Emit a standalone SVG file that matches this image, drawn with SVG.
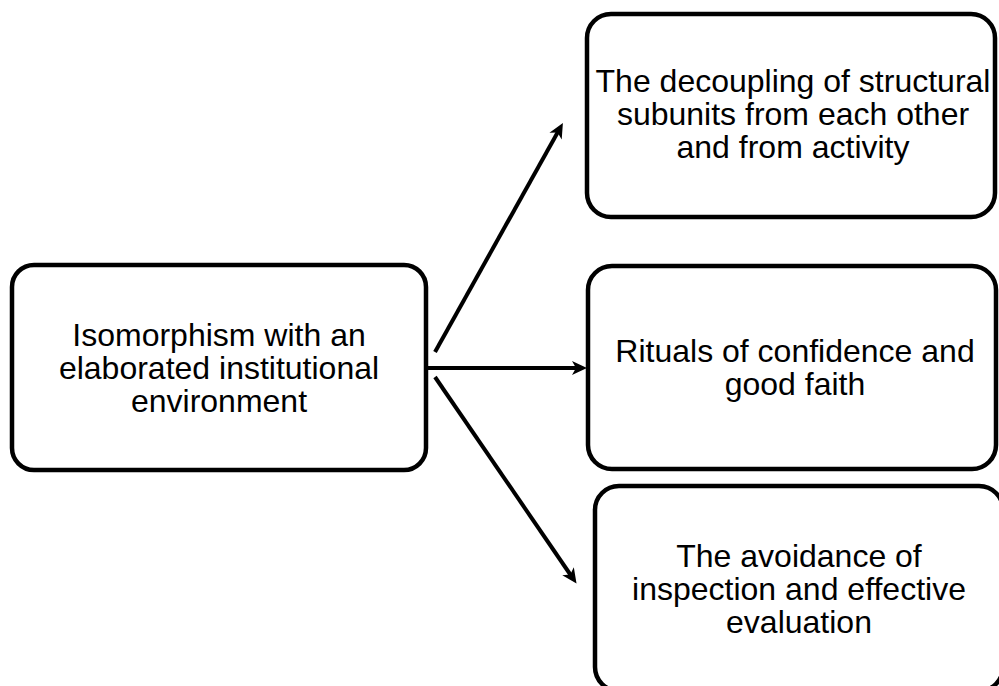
<svg xmlns="http://www.w3.org/2000/svg" width="999" height="686" viewBox="0 0 999 686">
  <style>
    .box { fill: #ffffff; stroke: #000000; stroke-width: 4.5; }
    .lbl { font-family: "Liberation Sans", Arial, sans-serif; font-size: 32px; fill: #000000; text-anchor: middle; }
    .link { fill: none; stroke: #000000; stroke-width: 4; marker-end: url(#head); }
  </style>
  <defs>
    <marker id="head" markerUnits="userSpaceOnUse" orient="auto" refX="0" refY="0" markerWidth="20" markerHeight="20" overflow="visible">
      <path d="M8,0 L-7,-7 L-3,0 L-7,7 Z" fill="#000000"/>
    </marker>
  </defs>

  <rect width="999" height="686" fill="#ffffff"/>

  <g id="connectors">
    <line class="link" x1="435" y1="352" x2="559" y2="130"/>
    <line class="link" x1="428" y1="368" x2="579" y2="368"/>
    <line class="link" x1="435" y1="377" x2="572" y2="577"/>
  </g>

  <g id="isomorphism">
    <rect class="box" x="12" y="265" width="414" height="205" rx="22" ry="22"/>
    <text class="lbl" x="219" y="346">Isomorphism with an</text>
    <text class="lbl" x="219" y="379">elaborated institutional</text>
    <text class="lbl" x="219" y="412">environment</text>
  </g>

  <g id="decoupling">
    <rect class="box" x="587" y="14" width="408" height="203" rx="24" ry="24"/>
    <text class="lbl" x="793" y="92">The decoupling of structural</text>
    <text class="lbl" x="793" y="125">subunits from each other</text>
    <text class="lbl" x="793" y="158">and from activity</text>
  </g>

  <g id="rituals">
    <rect class="box" x="588" y="266" width="408" height="203" rx="24" ry="24"/>
    <text class="lbl" x="795" y="362">Rituals of confidence and</text>
    <text class="lbl" x="795" y="395">good faith</text>
  </g>

  <g id="avoidance">
    <rect class="box" x="595" y="486" width="408" height="205" rx="24" ry="24"/>
    <text class="lbl" x="799" y="567">The avoidance of</text>
    <text class="lbl" x="799" y="600">inspection and effective</text>
    <text class="lbl" x="799" y="633">evaluation</text>
  </g>
</svg>
